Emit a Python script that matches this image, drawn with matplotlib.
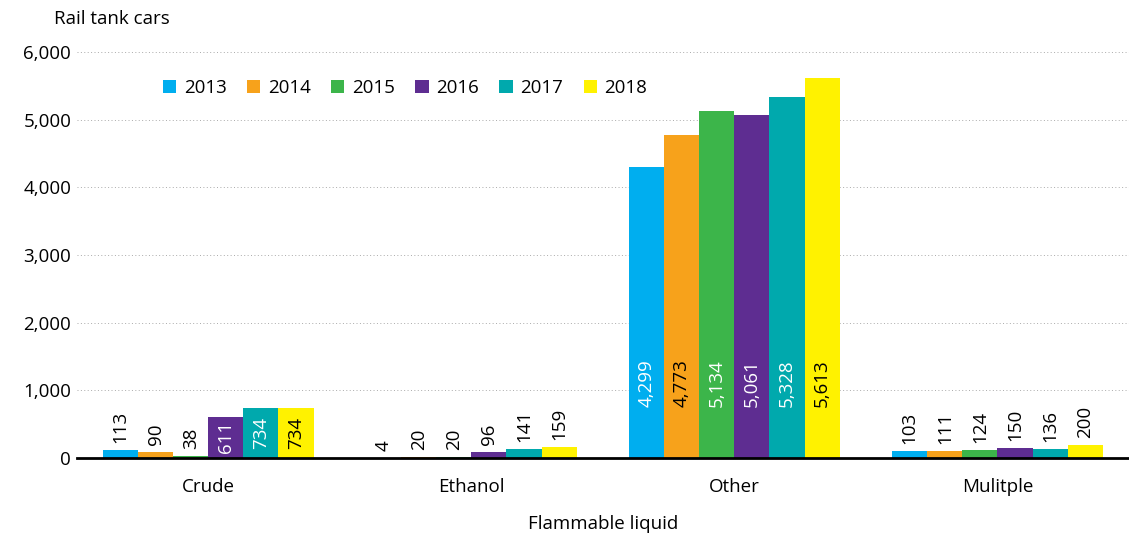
import matplotlib.pyplot as plt
import numpy as np

plt.rcParams['font.family'] = ['Open Sans', 'DejaVu Sans']

categories = ['Crude', 'Ethanol', 'Other', 'Mulitple']
years = ['2013', '2014', '2015', '2016', '2017', '2018']
values = {
    '2013': [113, 4, 4299, 103],
    '2014': [90, 20, 4773, 111],
    '2015': [38, 20, 5134, 124],
    '2016': [611, 96, 5061, 150],
    '2017': [734, 141, 5328, 136],
    '2018': [734, 159, 5613, 200],
}
colors = ['#00AEEF', '#F7A21B', '#3CB54A', '#5E2D91', '#00A9AD', '#FFF200']
inside_text = ['white', 'black', 'white', 'white', 'white', 'black']

fig = plt.figure(figsize=(11.29, 5.46), dpi=100)
ax = fig.add_axes([0.068, 0.161, 0.932, 0.744])

x = np.arange(len(categories))
w = 0.8 / len(years)
for i, yr in enumerate(years):
    pos = x - 0.4 + w * (i + 0.5)
    ax.bar(pos, values[yr], width=w, color=colors[i], label=yr, zorder=2)
    for p, v in zip(pos, values[yr]):
        txt = f'{v:,}'
        if v > 500:
            ax.text(p, min(v / 2, 1100), txt, rotation=90, ha='center', va='center',
                    color=inside_text[i], fontsize=13.5, zorder=3)
        else:
            ax.annotate(txt, (p, v), xytext=(0, 5), textcoords='offset points',
                        rotation=90, ha='center', va='bottom', fontsize=13.5, color='black')

ax.set_xlim(-0.5, len(categories) - 0.5)
ax.set_ylim(0, 6000)
ax.set_yticks(range(0, 7000, 1000))
ax.set_yticklabels([f'{t:,}' for t in range(0, 7000, 1000)], fontsize=13.5)
ax.set_xticks(x)
ax.set_xticklabels(categories, fontsize=13.5)
ax.tick_params(axis='both', length=0)
ax.tick_params(axis='y', pad=4)
ax.tick_params(axis='x', pad=14)
ax.yaxis.grid(True, linestyle=(0, (1, 2.5)), color='#aaaaaa', linewidth=0.7, zorder=0)
ax.set_axisbelow(True)
for s in ['top', 'right', 'left']:
    ax.spines[s].set_visible(False)
ax.spines['bottom'].set_linewidth(2)
ax.spines['bottom'].set_zorder(4)

ax.set_xlabel('Flammable liquid', fontsize=13.5, labelpad=14)
fig.text(0.048, 0.965, 'Rail tank cars', fontsize=13.5, ha='left', va='center')

ax.legend(loc='center', bbox_to_anchor=(0.312, 0.91), ncol=6, frameon=False, fontsize=13.5,
          handlelength=0.7, handleheight=0.7, handletextpad=0.4, columnspacing=1.1)

fig.savefig('out.png', dpi=100)
